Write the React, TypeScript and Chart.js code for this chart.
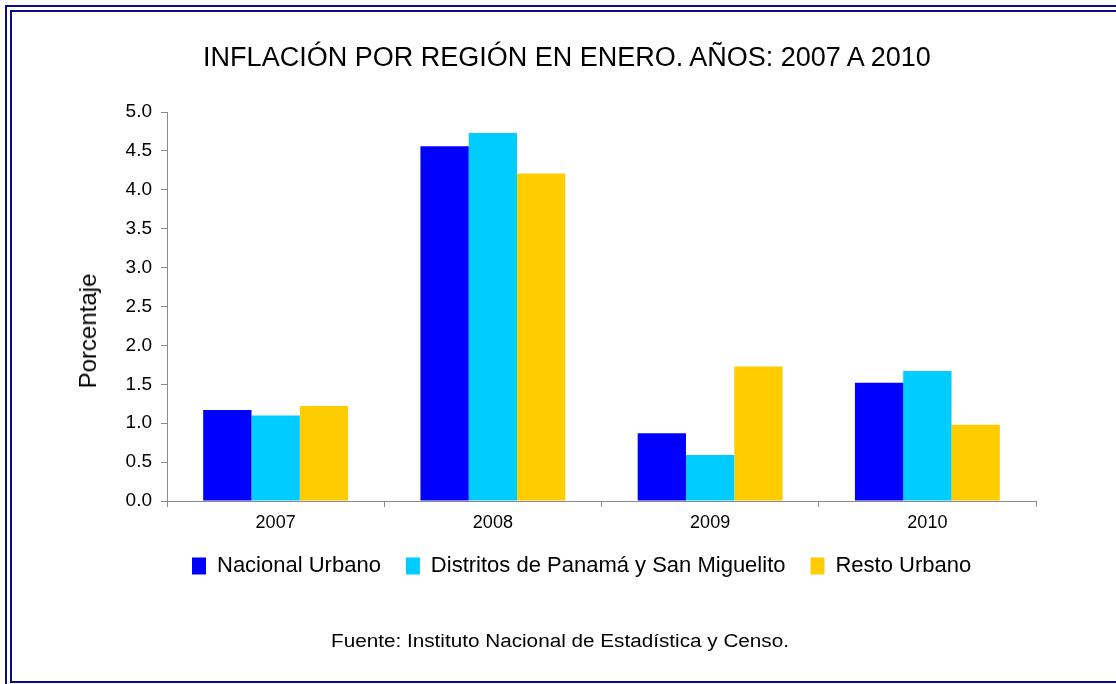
import React, { useEffect, useRef } from 'react';
import { Chart, registerables } from 'chart.js';

Chart.register(...registerables);

// ---- Data ----
const years = ['2007', '2008', '2009', '2010'];
const nacionalUrbano = [1.17, 4.56, 0.87, 1.52];
const distritosPanama = [1.1, 4.73, 0.59, 1.67];
const restoUrbano = [1.22, 4.21, 1.73, 0.98];
const seriesNames = ['Nacional Urbano', 'Distritos de Panamá y San Miguelito', 'Resto Urbano'];
const seriesColors = ['#0000FF', '#00CCFF', '#FFCC00'];
const yMin = 0;
const yMax = 5;
const yStep = 0.5;
const chartTitle = 'INFLACIÓN POR REGIÓN EN ENERO. AÑOS: 2007 A 2010';
const yAxisTitle = 'Porcentaje';
const sourceNote = 'Fuente: Instituto Nacional de Estadística y Censo.';

const FONT = "'Liberation Sans', Arial, sans-serif";
const NAVY = '#0c0c82';
const AXIS = '#8a8a8a';

export default function App() {
  const canvasRef = useRef<HTMLCanvasElement | null>(null);

  useEffect(() => {
    const canvas = canvasRef.current;
    if (!canvas) return;
    const seriesData = [nacionalUrbano, distritosPanama, restoUrbano];
    const chart = new Chart(canvas, {
      type: 'bar',
      data: {
        labels: years,
        datasets: seriesNames.map((name, i) => ({
          label: name,
          data: seriesData[i],
          backgroundColor: seriesColors[i],
          borderWidth: 0,
          categoryPercentage: 0.667,
          barPercentage: 1.0,
        })),
      },
      options: {
        responsive: false,
        animation: false,
        devicePixelRatio: 1,
        layout: { padding: { left: 100, right: 80, top: 112, bottom: 97 } },
        font: { family: FONT },
        scales: {
          x: {
            offset: true,
            grid: {
              display: true,
              drawOnChartArea: false,
              drawTicks: true,
              tickLength: 6,
              color: AXIS,
              offset: true,
            },
            border: { display: true, color: AXIS, width: 1 },
            ticks: {
              color: '#000',
              padding: 5,
              font: { family: FONT, size: 18 },
            },
            afterFit: (scale: any) => {
              scale.height = 29;
            },
          },
          y: {
            min: yMin,
            max: yMax,
            grid: {
              display: true,
              drawOnChartArea: false,
              drawTicks: true,
              tickLength: 6,
              color: AXIS,
            },
            border: { display: true, color: AXIS, width: 1 },
            ticks: {
              stepSize: yStep,
              color: '#000',
              padding: 9,
              font: { family: FONT, size: 19 },
              callback: (v: any) => Number(v).toFixed(1),
            },
            afterFit: (scale: any) => {
              scale.width = 67;
            },
          },
        },
        plugins: {
          title: { display: false },
          tooltip: { enabled: false },
          legend: {
            display: true,
            position: 'bottom',
            align: 'start',
            fullSize: false,
            labels: {
              boxWidth: 14,
              boxHeight: 17,
              padding: 25,
              color: '#000',
              font: { family: FONT, size: 22 },
            },
          },
        },
      },
    });
    return () => chart.destroy();
  }, []);

  return (
    <div
      style={{
        position: 'fixed',
        left: 0,
        top: 0,
        width: 1116,
        height: 684,
        overflow: 'hidden',
        background: '#fff',
        fontFamily: FONT,
      }}
    >
      {/* double frame */}
      <div
        style={{
          position: 'absolute',
          left: 5,
          top: 5,
          width: 1200,
          height: 760,
          border: `2px solid ${NAVY}`,
          boxSizing: 'border-box',
        }}
      />
      <div
        style={{
          position: 'absolute',
          left: 10,
          top: 10,
          width: 1200,
          height: 673,
          border: `2px solid ${NAVY}`,
          boxSizing: 'border-box',
        }}
      />
      <canvas
        ref={canvasRef}
        width={1116}
        height={684}
        style={{ position: 'absolute', left: 0, top: 0, width: 1116, height: 684 }}
      />
      <div
        style={{
          position: 'absolute',
          left: 567,
          top: 44,
          transform: 'translateX(-50%)',
          fontSize: 27,
          lineHeight: '27px',
          whiteSpace: 'nowrap',
          color: '#000',
        }}
      >
        {chartTitle}
      </div>
      <div
        style={{
          position: 'absolute',
          left: 88,
          top: 331,
          transform: 'translate(-50%, -50%) rotate(-90deg)',
          fontSize: 24,
          lineHeight: '24px',
          whiteSpace: 'nowrap',
          color: '#000',
        }}
      >
        {yAxisTitle}
      </div>
      <div
        style={{
          position: 'absolute',
          left: 560,
          top: 632,
          transform: 'translateX(-50%) scaleX(1.15)',
          fontSize: 18,
          lineHeight: '18px',
          whiteSpace: 'nowrap',
          color: '#000',
        }}
      >
        {sourceNote}
      </div>
    </div>
  );
}
